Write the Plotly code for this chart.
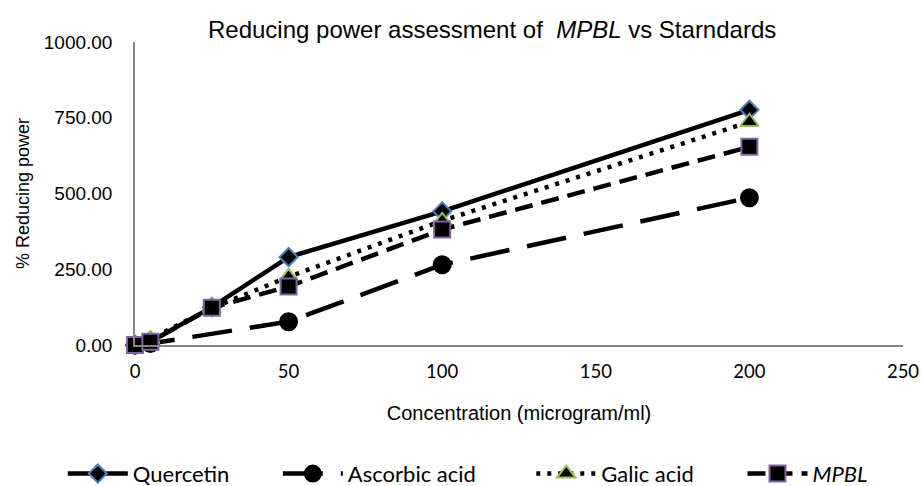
import plotly.graph_objects as go

conc = [0, 5, 25, 50, 100, 200]
quercetin = [0, 10, 125, 290, 441, 776]
ascorbic = [0, 5, None, 77, 265, 486]
galic = [-5, 20, 122, 225, 410, 736]
mpbl = [0, 11, 123, 193, 381, 654]

series = [
    ("Quercetin", quercetin, "solid", "diamond", 14, "#4F81BD", "legend", -0.094),
    ("Ascorbic acid", ascorbic, "40px,18px", "circle", 17, "#000000", "legend2", 0.186),
    ("Galic acid", galic, "4px,7px", "triangle-up", 16, "#9BBB59", "legend3", 0.516),
    ("<i>MPBL</i>", mpbl, "18px,9px", "square", 16, "#8064A2", "legend4", 0.791),
]

fig = go.Figure()
legends = {}
for name, vals, dash, sym, size, edge, lg, lx in series:
    fig.add_trace(go.Scatter(
        x=conc, y=vals, name=name, mode="lines+markers",
        connectgaps=True, cliponaxis=False, legend=lg,
        line=dict(color="black", width=4.5, dash=dash),
        marker=dict(symbol=sym, size=size, color="black",
                    line=dict(color=edge, width=2)),
    ))
    legends[lg] = dict(orientation="h", x=lx, xanchor="left", y=-0.425, yanchor="middle",
                       font=dict(family="Lato", size=22, color="black"),
                       itemwidth=60, bgcolor="rgba(0,0,0,0)")

fig.update_layout(
    width=923, height=486,
    margin=dict(l=135, r=20, t=42, b=141, autoexpand=False),
    paper_bgcolor="white", plot_bgcolor="white",
    title=dict(text="Reducing power assessment of  <i>MPBL</i> vs Starndards",
               x=0.465, xref="paper", xanchor="center", y=0.94, yanchor="middle",
               font=dict(family="Liberation Sans", size=24, color="black")),
    xaxis=dict(range=[0, 250], dtick=50, tick0=0, showgrid=False, zeroline=False,
               showline=True, linecolor="#868686", linewidth=1.5, ticks="",
               ticklabelstandoff=9, automargin=False,
               tickfont=dict(family="Lato", size=18.5, color="black"),
               title=dict(text="Concentration (microgram/ml)", standoff=25,
                          font=dict(family="Liberation Sans", size=20, color="black"))),
    yaxis=dict(range=[0, 1000], dtick=250, tick0=0, tickformat=".2f",
               showgrid=False, zeroline=False, automargin=False,
               showline=True, linecolor="#868686", linewidth=1.5, ticks="",
               ticklabelstandoff=17,
               tickfont=dict(family="Liberation Sans", size=19, color="black"),
               title=dict(text="% Reducing power", standoff=9,
                          font=dict(family="Liberation Sans", size=18, color="black"))),
    showlegend=True,
    **legends,
)

fig.write_html("out.html")
